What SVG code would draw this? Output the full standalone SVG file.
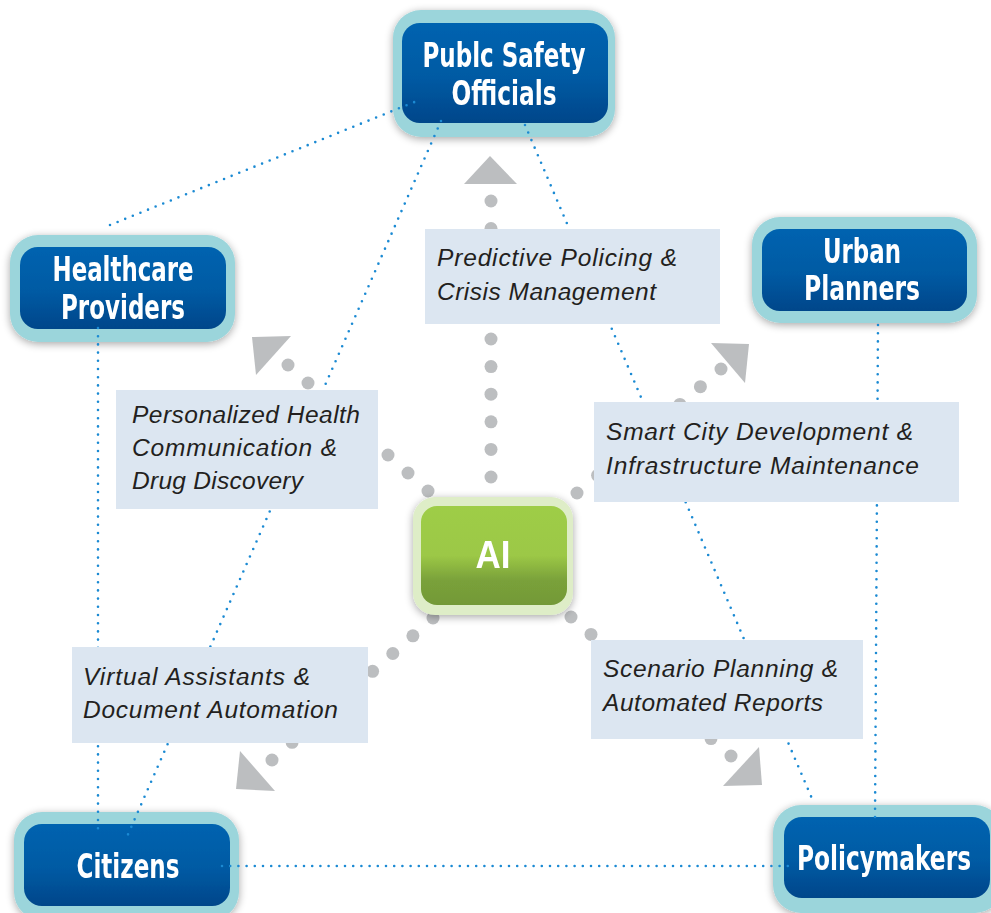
<svg xmlns="http://www.w3.org/2000/svg" width="991" height="913" viewBox="0 0 991 913">
<defs>
<linearGradient id="gBlue" x1="0" y1="0" x2="0" y2="1">
<stop offset="0" stop-color="#0063b0"/>
<stop offset="0.55" stop-color="#005aa3"/>
<stop offset="1" stop-color="#00468a"/>
</linearGradient>
<linearGradient id="gGreen" x1="0" y1="0" x2="0" y2="1">
<stop offset="0" stop-color="#9ecd46"/>
<stop offset="0.5" stop-color="#9cc846"/>
<stop offset="0.75" stop-color="#7aa13a"/>
<stop offset="1" stop-color="#739938"/>
</linearGradient>
<filter id="shadow" x="-20%" y="-30%" width="140%" height="160%">
<feGaussianBlur in="SourceAlpha" stdDeviation="4"/>
<feOffset dx="0" dy="2" result="b"/>
<feComponentTransfer><feFuncA type="linear" slope="0.35"/></feComponentTransfer>
<feMerge><feMergeNode/><feMergeNode in="SourceGraphic"/></feMerge>
</filter>
</defs>
<style>
.ring{fill:#9bd5db}
.inner{fill:url(#gBlue)}
.ntext{font-family:"Liberation Sans Narrow","DejaVu Sans Condensed","Liberation Sans",sans-serif;font-weight:bold;font-size:34px;fill:#ffffff;text-anchor:middle}
.gdot{fill:#bcbec0}
.ghead{fill:#bcbec0}
.conn{stroke:#1b8ad3;stroke-width:2.6;stroke-linecap:round;stroke-dasharray:0 8.2;fill:none}
.lbox{fill:#dce6f1}
.ltext{font-family:"Liberation Sans",Arial,sans-serif;font-style:italic;font-size:24.5px;fill:#231f20}
</style>
<rect width="991" height="913" fill="#ffffff"/>

<g id="ai-arrows">
<g id="arrow-up">
<circle class="gdot" cx="491" cy="477" r="6.5"/><circle class="gdot" cx="491" cy="449.4" r="6.5"/><circle class="gdot" cx="491" cy="421.8" r="6.5"/><circle class="gdot" cx="491" cy="394.2" r="6.5"/><circle class="gdot" cx="491" cy="366.6" r="6.5"/><circle class="gdot" cx="491" cy="339" r="6.5"/><circle class="gdot" cx="491" cy="311.4" r="6.5"/><circle class="gdot" cx="491" cy="283.8" r="6.5"/><circle class="gdot" cx="491" cy="256.2" r="6.5"/><circle class="gdot" cx="491" cy="228.6" r="6.5"/><circle class="gdot" cx="491" cy="201" r="6.5"/>
<polygon class="ghead" points="490,156 464,184 517,184"/>
</g>
<g id="arrow-upleft">
<circle class="gdot" cx="428" cy="491" r="6.5"/><circle class="gdot" cx="408" cy="473" r="6.5"/><circle class="gdot" cx="388" cy="455" r="6.5"/><circle class="gdot" cx="368" cy="437" r="6.5"/><circle class="gdot" cx="348" cy="419" r="6.5"/><circle class="gdot" cx="328" cy="401" r="6.5"/><circle class="gdot" cx="308" cy="383" r="6.5"/><circle class="gdot" cx="288" cy="365" r="6.5"/>
<polygon class="ghead" points="252,337 291,336 256,375"/>
</g>
<g id="arrow-upright">
<circle class="gdot" cx="577" cy="493" r="6.5"/><circle class="gdot" cx="597.6" cy="475.3" r="6.5"/><circle class="gdot" cx="618.1" cy="457.6" r="6.5"/><circle class="gdot" cx="638.7" cy="439.9" r="6.5"/><circle class="gdot" cx="659.3" cy="422.1" r="6.5"/><circle class="gdot" cx="679.9" cy="404.4" r="6.5"/><circle class="gdot" cx="700.4" cy="386.7" r="6.5"/><circle class="gdot" cx="721" cy="369" r="6.5"/>
<polygon class="ghead" points="711,343 749,344 745,383"/>
</g>
<g id="arrow-downleft">
<circle class="gdot" cx="433" cy="618" r="6.5"/><circle class="gdot" cx="412.9" cy="635.8" r="6.5"/><circle class="gdot" cx="392.8" cy="653.5" r="6.5"/><circle class="gdot" cx="372.6" cy="671.3" r="6.5"/><circle class="gdot" cx="352.5" cy="689" r="6.5"/><circle class="gdot" cx="332.4" cy="706.8" r="6.5"/><circle class="gdot" cx="312.3" cy="724.5" r="6.5"/><circle class="gdot" cx="292.1" cy="742.3" r="6.5"/><circle class="gdot" cx="272" cy="760" r="6.5"/>
<polygon class="ghead" points="236,789 275,791 240,751"/>
</g>
<g id="arrow-downright">
<circle class="gdot" cx="571" cy="617" r="6.5"/><circle class="gdot" cx="591" cy="634.4" r="6.5"/><circle class="gdot" cx="611" cy="651.8" r="6.5"/><circle class="gdot" cx="631" cy="669.1" r="6.5"/><circle class="gdot" cx="651" cy="686.5" r="6.5"/><circle class="gdot" cx="671" cy="703.9" r="6.5"/><circle class="gdot" cx="691" cy="721.3" r="6.5"/><circle class="gdot" cx="711" cy="738.6" r="6.5"/><circle class="gdot" cx="731" cy="756" r="6.5"/>
<polygon class="ghead" points="723,786 762,785 759,747"/>
</g>
</g>

<g id="node-ai" filter="url(#shadow)">
<rect x="413" y="497" width="160" height="118" rx="22" fill="#deedc7"/>
<rect x="421" y="506" width="146" height="99" rx="16" fill="url(#gGreen)"/>
<text x="493" y="568" font-family="Liberation Sans,Arial,sans-serif" font-weight="bold" font-size="38" fill="#ffffff" text-anchor="middle" textLength="35" lengthAdjust="spacingAndGlyphs">AI</text>
</g>

<g id="node-public-safety" filter="url(#shadow)">
<rect class="ring" x="393" y="10" width="222" height="127" rx="28"/>
<rect class="inner" x="402" y="23" width="206" height="100" rx="18"/>
<text class="ntext" x="504" y="67" textLength="163" lengthAdjust="spacingAndGlyphs">Publc Safety</text>
<text class="ntext" x="504" y="105" textLength="105" lengthAdjust="spacingAndGlyphs">Officials</text>
</g>

<g id="node-healthcare" filter="url(#shadow)">
<rect class="ring" x="10" y="235" width="225" height="107" rx="28"/>
<rect class="inner" x="20" y="247" width="206" height="82" rx="18"/>
<text class="ntext" x="123" y="281" textLength="141" lengthAdjust="spacingAndGlyphs">Healthcare</text>
<text class="ntext" x="123" y="319" textLength="124" lengthAdjust="spacingAndGlyphs">Providers</text>
</g>

<g id="node-urban" filter="url(#shadow)">
<rect class="ring" x="752" y="217" width="225" height="106" rx="28"/>
<rect class="inner" x="762" y="229" width="205" height="82" rx="18"/>
<text class="ntext" x="862" y="263" textLength="78" lengthAdjust="spacingAndGlyphs">Urban</text>
<text class="ntext" x="862" y="300" textLength="116" lengthAdjust="spacingAndGlyphs">Planners</text>
</g>

<g id="node-citizens" filter="url(#shadow)">
<rect class="ring" x="14" y="812" width="225" height="108" rx="28"/>
<rect class="inner" x="24" y="824" width="206" height="82" rx="18"/>
<text class="ntext" x="128" y="878" textLength="103" lengthAdjust="spacingAndGlyphs">Citizens</text>
</g>

<g id="node-policymakers" filter="url(#shadow)">
<rect class="ring" x="773" y="805" width="230" height="108" rx="28"/>
<rect class="inner" x="784" y="817" width="206" height="81" rx="18"/>
<text class="ntext" x="884" y="870" textLength="174" lengthAdjust="spacingAndGlyphs">Policymakers</text>
</g>

<g id="connectors">
<line class="conn" x1="110" y1="225" x2="417" y2="101"/>
<line class="conn" x1="441" y1="121" x2="126" y2="839"/>
<line class="conn" x1="525" y1="125" x2="813" y2="801"/>
<line class="conn" x1="878" y1="325" x2="875" y2="820"/>
<line class="conn" x1="98" y1="328" x2="98" y2="835"/>
<line class="conn" x1="222" y1="866" x2="795" y2="866"/>
</g>

<g id="label-predictive">
<rect class="lbox" x="425" y="229" width="295" height="95"/>
<text class="ltext" x="437" y="266" textLength="240" lengthAdjust="spacing">Predictive Policing &amp;</text>
<text class="ltext" x="437" y="300" textLength="219" lengthAdjust="spacing">Crisis Management</text>
</g>

<g id="label-smartcity">
<rect class="lbox" x="594" y="402" width="365" height="100"/>
<text class="ltext" x="606" y="440" textLength="307" lengthAdjust="spacing">Smart City Development &amp;</text>
<text class="ltext" x="606" y="474" textLength="313" lengthAdjust="spacing">Infrastructure Maintenance</text>
</g>

<g id="label-health">
<rect class="lbox" x="116" y="390" width="262" height="119"/>
<text class="ltext" x="132" y="423" textLength="228" lengthAdjust="spacing">Personalized Health</text>
<text class="ltext" x="132" y="456" textLength="205" lengthAdjust="spacing">Communication &amp;</text>
<text class="ltext" x="132" y="489" textLength="171" lengthAdjust="spacing">Drug Discovery</text>
</g>

<g id="label-virtual">
<rect class="lbox" x="72" y="647" width="296" height="96"/>
<text class="ltext" x="83" y="685" textLength="227" lengthAdjust="spacing">Virtual Assistants &amp;</text>
<text class="ltext" x="83" y="718" textLength="255" lengthAdjust="spacing">Document Automation</text>
</g>

<g id="label-scenario">
<rect class="lbox" x="591" y="640" width="272" height="99"/>
<text class="ltext" x="603" y="677" textLength="235" lengthAdjust="spacing">Scenario Planning &amp;</text>
<text class="ltext" x="603" y="711" textLength="220" lengthAdjust="spacing">Automated Reports</text>
</g>
</svg>
